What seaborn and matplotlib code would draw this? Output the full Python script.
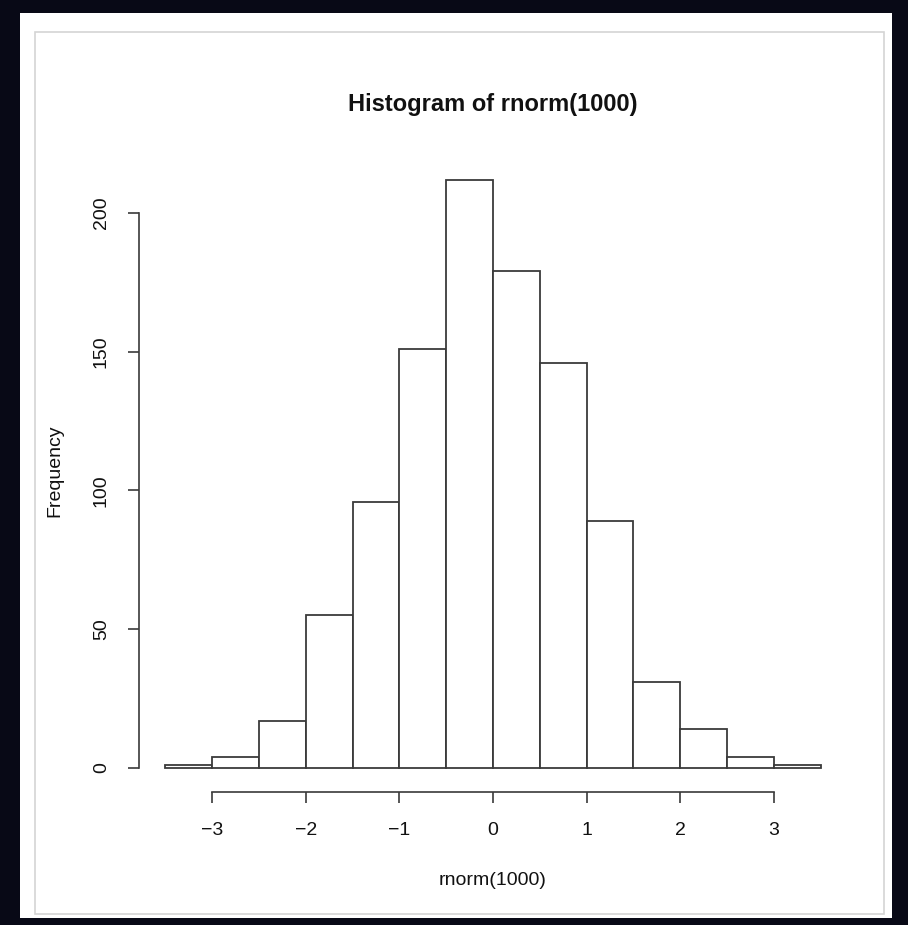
import matplotlib

matplotlib.use("Agg")
import matplotlib.pyplot as plt
import numpy as np
import pandas as pd
import seaborn as sns
from matplotlib.patches import Rectangle

# histogram of rnorm(1000), bin edges and counts
BIN_EDGES = [-3.5, -3.0, -2.5, -2.0, -1.5, -1.0, -0.5, 0.0, 0.5, 1.0, 1.5, 2.0, 2.5, 3.0, 3.5]
COUNTS = [1, 4, 17, 55, 96, 151, 212, 179, 146, 89, 31, 14, 4, 1]
X_TICKS = [-3, -2, -1, 0, 1, 2, 3]
X_TICK_LABELS = ["\u22123", "\u22122", "\u22121", "0", "1", "2", "3"]
Y_TICKS = [0, 50, 100, 150, 200]

TITLE = "Histogram of rnorm(1000)"
X_LABEL = "rnorm(1000)"
Y_LABEL = "Frequency"

W, H = 908, 925
BG_DARK = "#080916"
LINE_COLOR = "#3a3a3a"
TEXT_COLOR = "#111111"
FONT_SIZE = 14

sns.set_theme(style="white")
plt.rcParams["font.family"] = ["Liberation Sans", "DejaVu Sans"]

edges = np.array(BIN_EDGES)
hist_df = pd.DataFrame({
    "value": (edges[:-1] + edges[1:]) / 2,
    "count": COUNTS,
})

fig = plt.figure(figsize=(W / 100, H / 100), dpi=100, facecolor=BG_DARK)

# screenshot window panel
fig.add_artist(Rectangle((20 / W, 1 - 918 / H), 872 / W, 905 / H,
                         transform=fig.transFigure, facecolor="white",
                         edgecolor="none", zorder=0))
fig.add_artist(Rectangle((35 / W, 1 - 914 / H), 849 / W, 882 / H,
                         transform=fig.transFigure, facecolor="white",
                         edgecolor="#d4d4d4", linewidth=1.2, zorder=0))

ax = fig.add_axes([139 / W, 1 - 791.5 / H, 708 / W, 635.5 / H])
ax.set_facecolor("none")

sns.histplot(
    data=hist_df,
    x="value",
    weights="count",
    bins=list(BIN_EDGES),
    stat="count",
    color="white",
    edgecolor=LINE_COLOR,
    linewidth=1.3,
    alpha=1.0,
    ax=ax,
)

# R style axes with 4% padding
span_x = edges[-1] - edges[0]
ax.set_xlim(edges[0] - 0.04 * span_x, edges[-1] + 0.04 * span_x)
ymax = max(COUNTS)
ax.set_ylim(-0.04 * ymax, ymax * 1.04)

for side in ["top", "right"]:
    ax.spines[side].set_visible(False)
for side in ["left", "bottom"]:
    ax.spines[side].set_color(LINE_COLOR)
    ax.spines[side].set_linewidth(1.2)
ax.spines["left"].set_bounds(Y_TICKS[0], Y_TICKS[-1])
ax.spines["bottom"].set_bounds(X_TICKS[0], X_TICKS[-1])

ax.set_xticks(X_TICKS)
ax.set_xticklabels(X_TICK_LABELS)
ax.set_yticks(Y_TICKS)
ax.set_yticklabels([str(v) for v in Y_TICKS], rotation=90, va="center")
ax.tick_params(axis="both", direction="out", length=8, width=1.2,
               color=LINE_COLOR, labelsize=FONT_SIZE, labelcolor=TEXT_COLOR,
               left=True, bottom=True)
ax.tick_params(axis="x", pad=14)
ax.tick_params(axis="y", pad=13)

ax.set_xlabel(X_LABEL, fontsize=FONT_SIZE, color=TEXT_COLOR)
ax.set_ylabel(Y_LABEL, fontsize=FONT_SIZE, color=TEXT_COLOR)
ax.xaxis.set_label_coords(0.5, -0.126)
ax.yaxis.set_label_coords(-0.107, 0.505)

fig.text(493 / W, 1 - 104 / H, TITLE, ha="center", va="center",
         fontsize=17, fontweight="bold", color=TEXT_COLOR)

fig.savefig("out.png", dpi=100, facecolor=fig.get_facecolor())
plt.close(fig)
